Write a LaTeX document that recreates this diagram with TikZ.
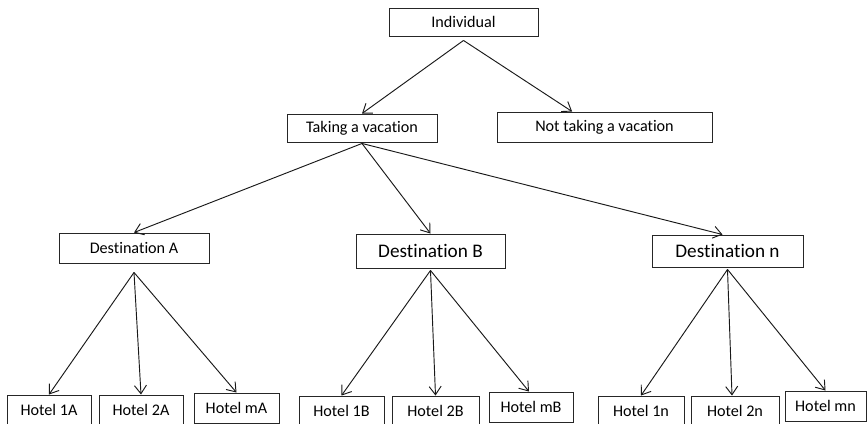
\documentclass[tikz,border=0pt]{standalone}
\usepackage{fontspec}
\setmainfont[Ligatures={NoCommon}]{Carlito}
\usetikzlibrary{arrows.meta,calc}
\tikzset{
  box/.style={draw=black!85, line width=0.8pt, inner sep=0pt, rectangle, text=black,
    font=\fontsize{13.8}{16}\selectfont},
  bigbox/.style={box, font=\fontsize{16.4}{19}\selectfont},
  conn/.style={draw=black!90, line width=0.8pt, -{Straight Barb[length=2.5mm,width=3.6mm,line width=0.8pt]}},
}
\begin{document}
\begin{tikzpicture}[x=0.3mm,y=-0.3mm]
\useasboundingbox (0,0) rectangle (867,424);
\clip (0,0) rectangle (867,424);
\fill[white] (0,0) rectangle (867,424);
% level 0 and 1
\node[box, minimum width=149*0.3mm, minimum height=28*0.3mm] (ind) at (463.5,22) {Individual};
\node[box, minimum width=150*0.3mm, minimum height=28*0.3mm] (take) at (362,128) {Taking a vacation};
\node[box, minimum width=215*0.3mm, minimum height=30*0.3mm] (nottake) at (604.5,127) {Not taking a vacation};
% destinations
\node[box, minimum width=150*0.3mm, minimum height=30*0.3mm] (destA) at (134,248) {Destination A};
\node[bigbox, minimum width=149*0.3mm, minimum height=34*0.3mm] (destB) at (430.5,251) {Destination B};
\node[bigbox, minimum width=151*0.3mm, minimum height=32*0.3mm] (destN) at (727.5,251) {Destination n};
% hotels
\node[box, minimum width=84*0.3mm, minimum height=30*0.3mm] (h1A) at (49,410) {Hotel 1A};
\node[box, minimum width=84*0.3mm, minimum height=30*0.3mm] (h2A) at (141,410) {Hotel 2A};
\node[box, minimum width=85*0.3mm, minimum height=30*0.3mm] (hmA) at (236.5,408) {Hotel mA};
\node[box, minimum width=85*0.3mm, minimum height=30*0.3mm] (h1B) at (341.5,411) {Hotel 1B};
\node[box, minimum width=87*0.3mm, minimum height=30*0.3mm] (h2B) at (435.5,411) {Hotel 2B};
\node[box, minimum width=84*0.3mm, minimum height=30*0.3mm] (hmB) at (531,407) {Hotel mB};
\node[box, minimum width=86*0.3mm, minimum height=30*0.3mm] (h1n) at (641,411) {Hotel 1n};
\node[box, minimum width=88*0.3mm, minimum height=30*0.3mm] (h2n) at (735,411) {Hotel 2n};
\node[box, minimum width=81*0.3mm, minimum height=30*0.3mm] (hmn) at (825.5,406) {Hotel mn};
% connector origins
\coordinate (indOut) at ([yshift=-1.2mm]ind.south);
\coordinate (takeOut) at ([yshift=-0.3mm]take.south);
\coordinate (aOut) at ([yshift=-2.7mm]destA.south);
\coordinate (bOut) at ([yshift=-0.6mm]destB.south);
\coordinate (nOut) at ([yshift=-0.6mm]destN.south);
% connectors
\draw[conn] (indOut) -- (take.north);
\draw[conn] (indOut) -- ($(nottake.north west)!0.35!(nottake.north east)$);
\draw[conn] (takeOut) -- (destA.north);
\draw[conn] (takeOut) -- (destB.north);
\draw[conn] (takeOut) -- ($(destN.north)+(-5,0)$);
\draw[conn] (aOut) -- (h1A.north);
\draw[conn] (aOut) -- (h2A.north);
\draw[conn] (aOut) -- (hmA.north);
\draw[conn] (bOut) -- (h1B.north);
\draw[conn] (bOut) -- (h2B.north);
\draw[conn] (bOut) -- ($(hmB.north)+(-2,0)$);
\draw[conn] (nOut) -- (h1n.north);
\draw[conn] (nOut) -- ($(h2n.north)+(-3,0)$);
\draw[conn] (nOut) -- (hmn.north);
\end{tikzpicture}
\end{document}
